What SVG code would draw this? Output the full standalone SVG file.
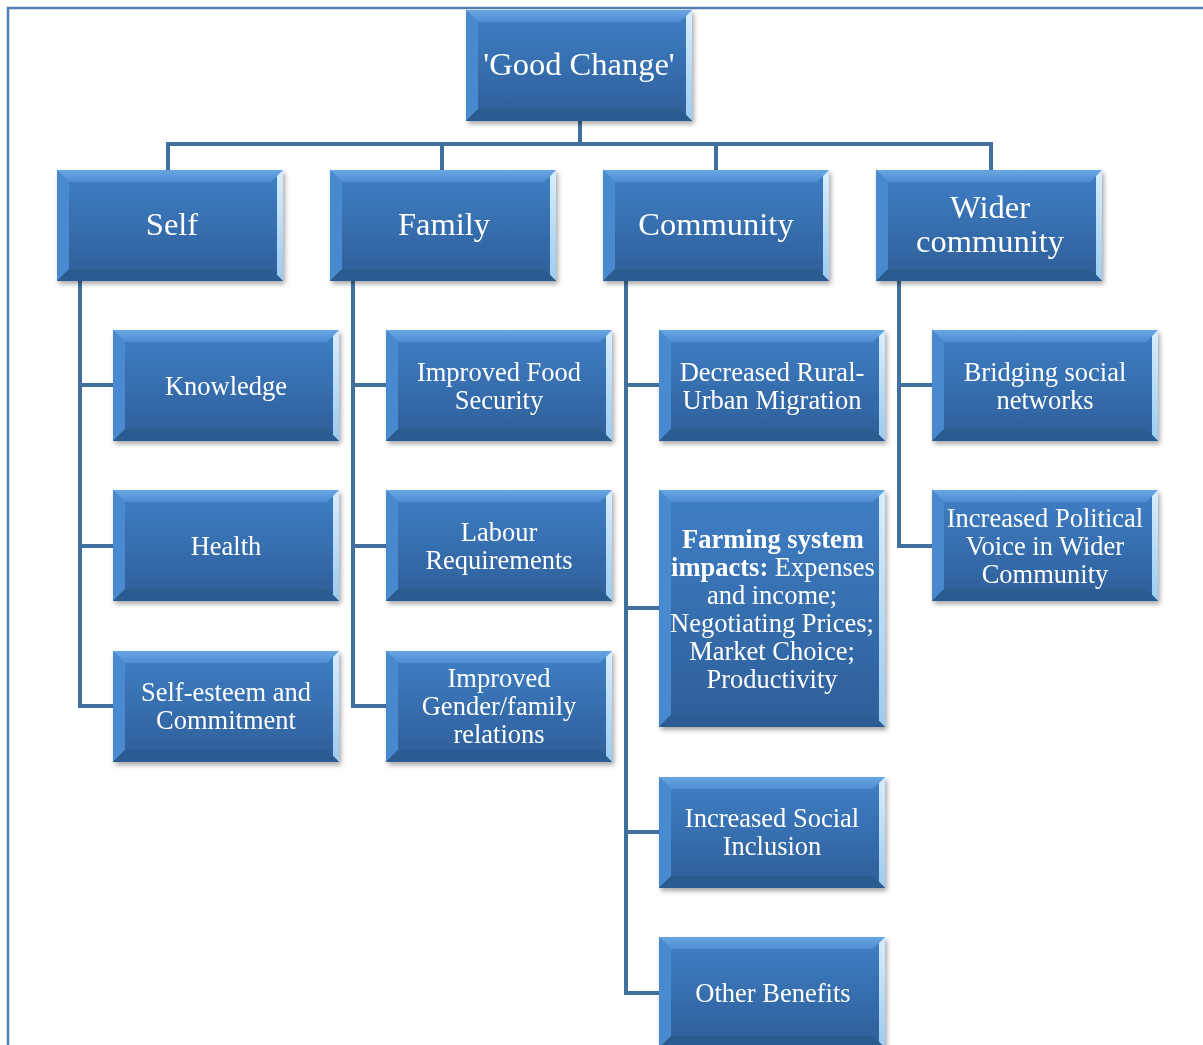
<svg xmlns="http://www.w3.org/2000/svg" xmlns:xlink="http://www.w3.org/1999/xlink" width="1203" height="1045" viewBox="0 0 1203 1045">
<style>
.t{font-family:"Liberation Serif","Times New Roman",serif;fill:#ffffff;text-anchor:middle;dominant-baseline:central}
.l1{font-size:32.5px}
.l2{font-size:26.5px}
.b{font-weight:bold}
.c{fill:none;stroke:#41709f;stroke-width:4;stroke-linejoin:miter}
</style>
<defs>
<linearGradient id="g" x1="0" y1="0" x2="0" y2="1">
<stop offset="0" stop-color="#3f7fc6"/>
<stop offset="1" stop-color="#2e5e98"/>
</linearGradient>
<linearGradient id="gr" x1="0" y1="0" x2="0" y2="1">
<stop offset="0" stop-color="#d8eeff"/>
<stop offset="1" stop-color="#9ccbf0"/>
</linearGradient>
<linearGradient id="gt" x1="0" y1="0" x2="0" y2="1">
<stop offset="0" stop-color="#6aa6e3"/>
<stop offset="1" stop-color="#4f8dd3"/>
</linearGradient>
<filter id="sh" x="-10%" y="-10%" width="125%" height="130%">
<feDropShadow dx="2" dy="3" stdDeviation="2.5" flood-color="#000" flood-opacity="0.35"/>
</filter>
<g id="box">
<rect x="0" y="0" width="226" height="111" fill="url(#g)"/>
<path d="M0 0H226L214 12H12Z" fill="url(#gt)"/>
<path d="M0 0L12 12V99L0 111Z" fill="#4a89cf"/>
<path d="M226 0V111L220 105V6Z" fill="url(#gr)"/>
<path d="M0 111L12 99H214L226 111Z" fill="#2c5b91"/>
</g>
<g id="boxT">
<rect x="0" y="0" width="226" height="237" fill="url(#g)"/>
<path d="M0 0H226L214 12H12Z" fill="url(#gt)"/>
<path d="M0 0L12 12V225L0 237Z" fill="#4a89cf"/>
<path d="M226 0V237L220 231V6Z" fill="url(#gr)"/>
<path d="M0 237L12 225H214L226 237Z" fill="#2c5b91"/>
</g>
</defs>
<rect x="0" y="0" width="1203" height="1045" fill="#ffffff"/>
<path d="M8 1046V8H1204" fill="none" stroke="#4f7fb3" stroke-width="2.5"/>
<g id="connectors">
<path class="c" d="M580 120V144M168 170V144H991V170M442 144V170M716 144V170"/>
<path class="c" d="M80 281V706H113M80 385H113M80 546H113"/>
<path class="c" d="M353 281V706H386M353 385H386M353 546H386"/>
<path class="c" d="M626 281V993H659M626 385H659M626 608H659M626 832H659"/>
<path class="c" d="M899 281V546H932M899 385H932"/>
</g>
<g id="root" filter="url(#sh)"><use xlink:href="#box" transform="translate(466,10)"/><text class="t l1" x="579" y="64">'Good Change'</text></g>
<g id="self" filter="url(#sh)"><use xlink:href="#box" transform="translate(57,170)"/><text class="t l1" x="172" y="224">Self</text></g>
<g id="family" filter="url(#sh)"><use xlink:href="#box" transform="translate(330,170)"/><text class="t l1" x="444" y="224">Family</text></g>
<g id="community" filter="url(#sh)"><use xlink:href="#box" transform="translate(603,170)"/><text class="t l1" x="716" y="224">Community</text></g>
<g id="wider" filter="url(#sh)"><use xlink:href="#box" transform="translate(876,170)"/><text class="t l1" x="990" y="207">Wider</text><text class="t l1" x="990" y="241">community</text></g>
<g id="knowledge" filter="url(#sh)"><use xlink:href="#box" transform="translate(113,330)"/><text class="t l2" x="226" y="386">Knowledge</text></g>
<g id="health" filter="url(#sh)"><use xlink:href="#box" transform="translate(113,490)"/><text class="t l2" x="226" y="546">Health</text></g>
<g id="selfesteem" filter="url(#sh)"><use xlink:href="#box" transform="translate(113,651)"/><text class="t l2" x="226" y="692">Self-esteem and</text><text class="t l2" x="226" y="720">Commitment</text></g>
<g id="food" filter="url(#sh)"><use xlink:href="#box" transform="translate(386,330)"/><text class="t l2" x="499" y="372">Improved Food</text><text class="t l2" x="499" y="400">Security</text></g>
<g id="labour" filter="url(#sh)"><use xlink:href="#box" transform="translate(386,490)"/><text class="t l2" x="499" y="532">Labour</text><text class="t l2" x="499" y="560">Requirements</text></g>
<g id="gender" filter="url(#sh)"><use xlink:href="#box" transform="translate(386,651)"/><text class="t l2" x="499" y="678">Improved</text><text class="t l2" x="499" y="706">Gender/family</text><text class="t l2" x="499" y="734">relations</text></g>
<g id="migration" filter="url(#sh)"><use xlink:href="#box" transform="translate(659,330)"/><text class="t l2" x="772" y="372">Decreased Rural-</text><text class="t l2" x="772" y="400">Urban Migration</text></g>
<g id="farming" filter="url(#sh)"><use xlink:href="#boxT" transform="translate(659,490)"/>
<text class="t l2 b" x="773" y="539">Farming system</text>
<text class="t l2" x="773" y="567"><tspan class="b">impacts:</tspan> Expenses</text>
<text class="t l2" x="772" y="595">and income;</text>
<text class="t l2" x="772" y="623">Negotiating Prices;</text>
<text class="t l2" x="772" y="651">Market Choice;</text>
<text class="t l2" x="772" y="679">Productivity</text></g>
<g id="inclusion" filter="url(#sh)"><use xlink:href="#box" transform="translate(659,777)"/><text class="t l2" x="772" y="818">Increased Social</text><text class="t l2" x="772" y="846">Inclusion</text></g>
<g id="other" filter="url(#sh)"><use xlink:href="#box" transform="translate(659,937)"/><text class="t l2" x="773" y="993">Other Benefits</text></g>
<g id="bridging" filter="url(#sh)"><use xlink:href="#box" transform="translate(932,330)"/><text class="t l2" x="1045" y="372">Bridging social</text><text class="t l2" x="1045" y="400">networks</text></g>
<g id="political" filter="url(#sh)"><use xlink:href="#box" transform="translate(932,490)"/><text class="t l2" x="1045" y="518">Increased Political</text><text class="t l2" x="1045" y="546">Voice in Wider</text><text class="t l2" x="1045" y="574">Community</text></g>
</svg>
